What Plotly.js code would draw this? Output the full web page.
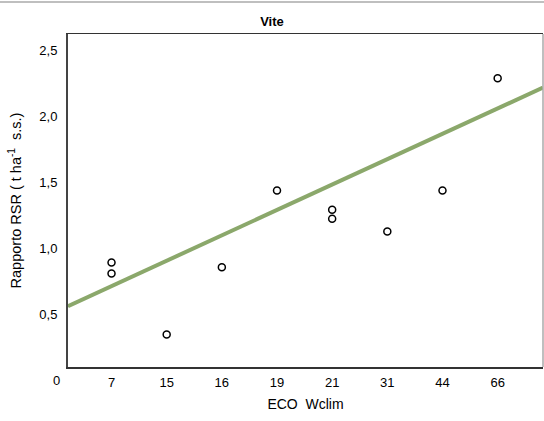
<!DOCTYPE html>
<html>
<head>
<meta charset="utf-8">
<script src="https://cdn.plot.ly/plotly-3.0.1.min.js"></script>
<style>html,body{margin:0;padding:0;background:#fff;}#chart{width:544px;height:421px;}</style>
</head>
<body>
<div id="chart"></div>
<script>
// category labels on the x axis (equally spaced)
var categories = ['0', '7', '15', '16', '19', '21', '31', '44', '66'];
// observed points: category and value
var pointCat = ['7', '7', '15', '16', '19', '21', '21', '31', '44', '66'];
var pointVal = [0.895, 0.812, 0.35, 0.858, 1.44, 1.294, 1.226, 1.13, 1.44, 2.29];
// trend line read at the plot edges (category position, value)
var trendPos = [0.211, 8.822];
var trendVal = [0.564, 2.219];
// y tick values
var yTicks = [0.5, 1.0, 1.5, 2.0, 2.5];

var xRange = [0.211, 8.822];
var yRange = [0.103, 2.625];

var pointX = pointCat.map(function (c) { return categories.indexOf(c); });
var tickPos = categories.slice(1).map(function (c) { return categories.indexOf(c); });

var font = 'Liberation Sans, Arial, sans-serif';

var traces = [
  {
    x: trendPos, y: trendVal, type: 'scatter', mode: 'lines',
    line: { color: '#8ba86b', width: 4 }, hoverinfo: 'skip', showlegend: false
  },
  {
    x: pointX, y: pointVal, type: 'scatter', mode: 'markers',
    marker: { symbol: 'circle-open', size: 7, color: '#000', line: { width: 1.5, color: '#000' } },
    showlegend: false, cliponaxis: false
  }
];

var layout = {
  width: 544, height: 421,
  margin: { l: 68, r: 1, t: 34, b: 54 },
  paper_bgcolor: '#fff', plot_bgcolor: '#fff',
  separators: ',.',
  font: { family: font, size: 13, color: '#000' },
  showlegend: false,
  title: { text: '<b>Vite</b>', font: { family: font, size: 13, color: '#000' },
           x: 0.5, xref: 'container', y: 1 - 21 / 421, yref: 'container', yanchor: 'middle' },
  xaxis: {
    range: xRange, showgrid: false, zeroline: false,
    tickvals: tickPos, ticktext: categories.slice(1),
    ticks: 'outside', ticklen: 3, tickcolor: 'rgba(0,0,0,0)',
    showline: true, linecolor: '#333', linewidth: 1.5, mirror: true,
    tickfont: { family: font, size: 13, color: '#000' },
    title: { text: 'ECO\u00a0 Wclim', font: { family: font, size: 14, color: '#000' }, standoff: 10 }
  },
  yaxis: {
    range: yRange, showgrid: false, zeroline: false,
    tickvals: yTicks, tickformat: '.1f',
    ticks: 'outside', ticklen: 6, tickcolor: 'rgba(0,0,0,0)',
    showline: true, linecolor: '#444', linewidth: 2,
    tickfont: { family: font, size: 13, color: '#000' },
    title: { text: 'Rapporto RSR (\u00a0t ha<sup>-1</sup>\u00a0 s.s.)', font: { family: font, size: 14.5, color: '#000' }, standoff: 14 }
  },
  shapes: [
    { type: 'line', xref: 'paper', yref: 'paper', x0: 1, x1: 1, y0: 0, y1: 1,
      line: { color: '#aaa', width: 1.5 } },
    { type: 'line', xref: 'paper', yref: 'paper', x0: -0.2, x1: 1.1, y0: 1 + 32 / 333.5, y1: 1 + 32 / 333.5,
      line: { color: '#aaa', width: 1.5 } }
  ],
  annotations: [
    { text: categories[0], xref: 'paper', yref: 'paper',
      x: (categories.indexOf('0') - xRange[0]) / (xRange[1] - xRange[0]),
      y: (0 - yRange[0]) / (yRange[1] - yRange[0]),
      showarrow: false, xanchor: 'center', yanchor: 'middle',
      font: { family: font, size: 13, color: '#000' } }
  ]
};

Plotly.newPlot('chart', traces, layout, { displayModeBar: false, staticPlot: true });
</script>
</body>
</html>
